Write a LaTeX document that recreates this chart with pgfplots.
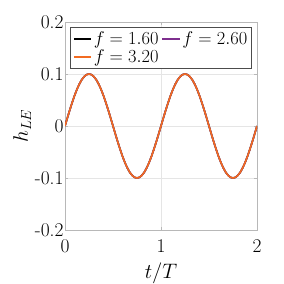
\RequirePackage{fix-cm}
\documentclass[border=0pt]{standalone}
\usepackage{pgfplots}
\pgfplotsset{compat=1.18}
\usepackage{pgfplotstable}
\definecolor{morange}{rgb}{0.95,0.42,0.13}
\definecolor{mpurple}{rgb}{0.494,0.184,0.556}
\definecolor{axgray}{gray}{0.72}
\pgfplotstableread{
t h
0 0
0.025 0.01564
0.05 0.03090
0.075 0.04540
0.1 0.05878
0.125 0.07071
0.15 0.08090
0.175 0.08910
0.2 0.09511
0.225 0.09877
0.25 0.1
0.275 0.09877
0.3 0.09511
0.325 0.08910
0.35 0.08090
0.375 0.07071
0.4 0.05878
0.425 0.04540
0.45 0.03090
0.475 0.01564
0.5 0
0.525 -0.01564
0.55 -0.03090
0.575 -0.04540
0.6 -0.05878
0.625 -0.07071
0.65 -0.08090
0.675 -0.08910
0.7 -0.09511
0.725 -0.09877
0.75 -0.1
0.775 -0.09877
0.8 -0.09511
0.825 -0.08910
0.85 -0.08090
0.875 -0.07071
0.9 -0.05878
0.925 -0.04540
0.95 -0.03090
0.975 -0.01564
1 0
1.025 0.01564
1.05 0.03090
1.075 0.04540
1.1 0.05878
1.125 0.07071
1.15 0.08090
1.175 0.08910
1.2 0.09511
1.225 0.09877
1.25 0.1
1.275 0.09877
1.3 0.09511
1.325 0.08910
1.35 0.08090
1.375 0.07071
1.4 0.05878
1.425 0.04540
1.45 0.03090
1.475 0.01564
1.5 0
1.525 -0.01564
1.55 -0.03090
1.575 -0.04540
1.6 -0.05878
1.625 -0.07071
1.65 -0.08090
1.675 -0.08910
1.7 -0.09511
1.725 -0.09877
1.75 -0.1
1.775 -0.09877
1.8 -0.09511
1.825 -0.08910
1.85 -0.08090
1.875 -0.07071
1.9 -0.05878
1.925 -0.04540
1.95 -0.03090
1.975 -0.01564
2 0
}\data
\begin{document}
\begin{tikzpicture}
\useasboundingbox (-65bp,-54bp) rectangle (219bp,230bp);
\begin{axis}[
  at={(0,0)}, anchor=south west,
  scale only axis,
  width=192bp, height=208bp,
  xmin=0, xmax=2, ymin=-0.2, ymax=0.2,
  xtick={0,1,2},
  ytick={-0.2,-0.1,0,0.1,0.2},
  yticklabels={\textnormal{-0.2},\textnormal{-0.1},\textnormal{0},\textnormal{0.1},\textnormal{0.2}},
  xticklabels={0,1,2},
  tick label style={font=\fontsize{19.5}{22}\selectfont},
  xticklabel style={yshift=-6bp},
  yticklabel style={xshift=2bp},
  grid=major,
  major grid style={gray!20, line width=0.5pt},
  axis line style={axgray, line width=0.8pt},
  tick style={axgray, line width=0.6pt},
  tick align=inside,
  major tick length=3bp,
  xlabel={$t/T$},
  ylabel={$h_{LE}$},
  label style={font=\fontsize{21}{25}\selectfont},
  xlabel style={yshift=-3bp},
  ylabel style={yshift=-3bp},
  legend columns=2,
  legend style={at={(0.5,0.975)}, anchor=north, draw=black!70, line width=0.6pt,
    font=\fontsize{18.5}{22}\selectfont, inner sep=2pt,
    /tikz/every even column/.append style={column sep=1bp},
    /tikz/every row/.append style={row sep=2bp}},
  legend image post style={line width=2pt},
  legend cell align=left,
]
\addplot[black, line width=1.6pt] table[x=t,y=h] {\data};
\addlegendentry{$f=1.60$}
\addplot[mpurple, line width=1.6pt] table[x=t,y=h] {\data};
\addlegendentry{$f=2.60$}
\addplot[morange, line width=1.6pt] table[x=t,y=h] {\data};
\addlegendentry{$f=3.20$}
\end{axis}
\end{tikzpicture}
\end{document}
